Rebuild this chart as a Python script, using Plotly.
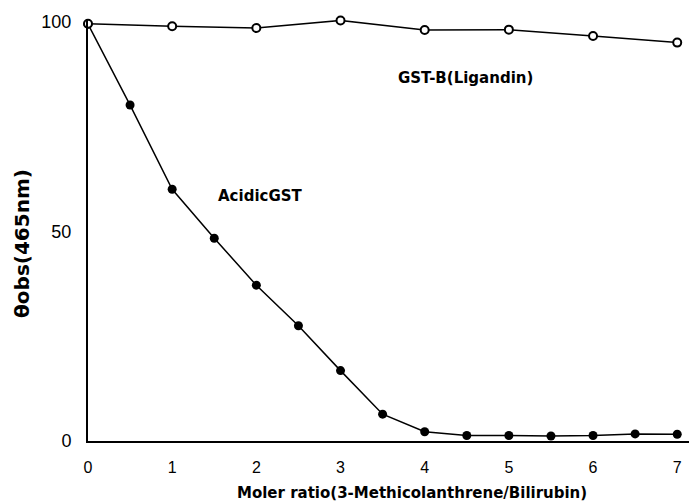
import plotly.graph_objects as go

ratio_gstb = [0, 1, 2, 3, 4, 5, 6, 7]
theta_gstb = [99.6, 99.0, 98.6, 100.4, 98.1, 98.2, 96.7, 95.1]

ratio_acidic = [0, 0.5, 1, 1.5, 2, 2.5, 3, 3.5, 4, 4.5, 5, 5.5, 6, 6.5, 7]
theta_acidic = [99.5, 80.2, 60.1, 48.4, 37.2, 27.5, 16.8, 6.4, 2.2, 1.3, 1.3, 1.2, 1.3, 1.7, 1.6]

x_ticks = [0, 1, 2, 3, 4, 5, 6, 7]
y_ticks = [0, 50, 100]

FONT = "Liberation Sans"
BOLD = "DejaVu Sans"

fig = go.Figure()
fig.add_trace(go.Scatter(
    x=ratio_acidic, y=theta_acidic, mode="lines+markers",
    line=dict(color="black", width=1.5),
    marker=dict(symbol="circle", size=9, color="black"),
    cliponaxis=False, showlegend=False, name="AcidicGST"))
fig.add_trace(go.Scatter(
    x=ratio_gstb, y=theta_gstb, mode="lines+markers",
    line=dict(color="black", width=1.5),
    marker=dict(symbol="circle", size=8, color="white",
                line=dict(color="black", width=2)),
    cliponaxis=False, showlegend=False, name="GST-B(Ligandin)"))

fig.add_annotation(x=2.05, y=58.5, text="<b>AcidicGST</b>", showarrow=False,
                   font=dict(family=BOLD, size=15, color="black"))
fig.add_annotation(x=4.49, y=86.6, text="<b>GST-B(Ligandin)</b>", showarrow=False,
                   font=dict(family=BOLD, size=15, color="black"))
fig.add_annotation(xref="paper", yref="paper", x=(412 - 88) / 601, y=-(493 - 441) / 421,
                   text="<b>Moler ratio(3-Methicolanthrene/Bilirubin)</b>",
                   showarrow=False, yanchor="middle",
                   font=dict(family=BOLD, size=15, color="black"))
fig.add_annotation(xref="paper", yref="paper", x=-0.11, y=(441 - 243) / 421,
                   text="<b>θobs(465nm)</b>", textangle=-90,
                   showarrow=False, xanchor="center", yanchor="middle",
                   font=dict(family=BOLD, size=20, color="black"))

fig.update_layout(
    width=689, height=503,
    margin=dict(l=88, r=0, t=20, b=62),
    plot_bgcolor="white", paper_bgcolor="white",
    font=dict(family=FONT, color="black"),
    xaxis=dict(range=[0, 7.14], tickvals=x_ticks, ticktext=[str(v) for v in x_ticks],
               showgrid=False, zeroline=False, showline=True, linecolor="black",
               linewidth=2, ticks="", ticklabelstandoff=11,
               tickfont=dict(family=FONT, size=16, color="black")),
    yaxis=dict(range=[0, 100.5], tickvals=y_ticks, ticktext=[str(v) for v in y_ticks],
               showgrid=False, zeroline=False, showline=True, linecolor="black",
               linewidth=2, ticks="", ticklabelstandoff=11,
               tickfont=dict(family=FONT, size=18, color="black")),
)

fig.write_html("out.html", config={"displayModeBar": False},
               post_script="document.body.style.margin='0';document.body.style.padding='0';document.body.style.overflow='hidden';")
